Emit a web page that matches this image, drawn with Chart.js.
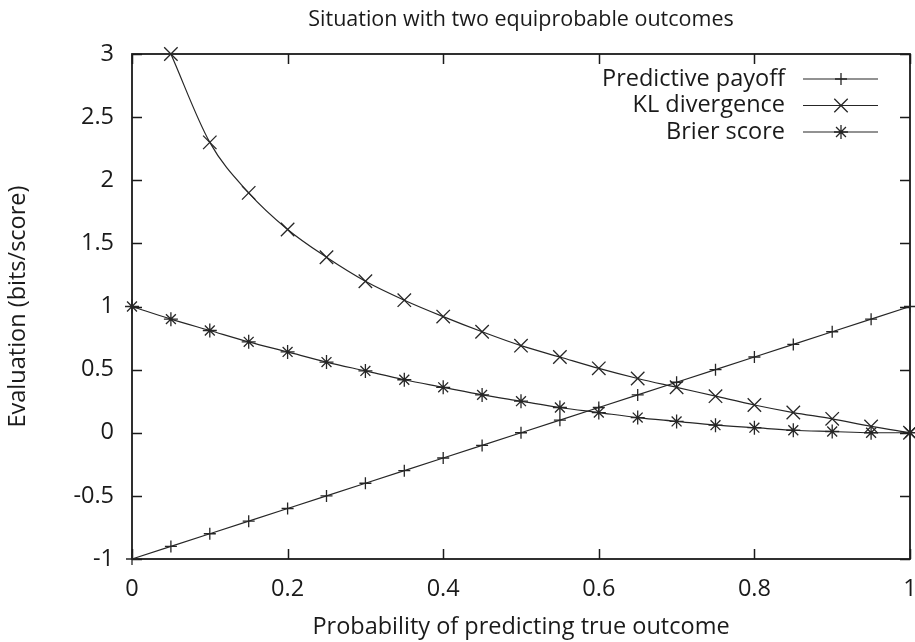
<!DOCTYPE html>
<html>
<head>
<meta charset="utf-8">
<style>
  html, body { margin: 0; padding: 0; background: #ffffff; }
  #wrap { width: 915px; height: 642px; }
</style>
<script src="https://cdn.jsdelivr.net/npm/chart.js@4/dist/chart.umd.min.js"></script>
</head>
<body>
<div id="wrap"><canvas id="c" width="915" height="642"></canvas></div>
<script>
// ---- data ----
const titleText = "Situation with two equiprobable outcomes";
const xTitle = "Probability of predicting true outcome";
const yTitle = "Evaluation (bits/score)";
const probs = [0, 0.05, 0.1, 0.15, 0.2, 0.25, 0.3, 0.35, 0.4, 0.45, 0.5,
               0.55, 0.6, 0.65, 0.7, 0.75, 0.8, 0.85, 0.9, 0.95, 1];
const seriesNames = ["Predictive payoff", "KL divergence", "Brier score"];
const payoff = [-1, -0.9, -0.8, -0.7, -0.6, -0.5, -0.4, -0.3, -0.2, -0.1, 0,
                0.1, 0.2, 0.3, 0.4, 0.5, 0.6, 0.7, 0.8, 0.9, 1];
const klDiv = [null, 3.0, 2.3, 1.9, 1.61, 1.39, 1.2, 1.05, 0.92, 0.8, 0.69,
               0.6, 0.51, 0.43, 0.36, 0.29, 0.22, 0.16, 0.11, 0.05, 0];
const brier = [1, 0.9, 0.81, 0.72, 0.64, 0.56, 0.49, 0.42, 0.36, 0.3, 0.25,
               0.2, 0.16, 0.12, 0.09, 0.06, 0.04, 0.02, 0.01, 0.0, 0];
const xTicks = [0, 0.2, 0.4, 0.6, 0.8, 1];
const yTicks = [-1, -0.5, 0, 0.5, 1, 1.5, 2, 2.5, 3];

// ---- styling ----
const FONT = "'Open Sans', 'DejaVu Sans', sans-serif";
const INK = "#1a1a1a";
const LINE = "#262626";
const markerStyles = ["cross", "crossRot", "star"];
const markerRadius = [6, 9.5, 7];
const BIG = 23.5;

function toPoints(vals) {
  const out = [];
  for (let i = 0; i < probs.length; i++) {
    if (vals[i] !== null && vals[i] !== undefined) out.push({ x: probs[i], y: vals[i] });
  }
  return out;
}

const seriesValues = [payoff, klDiv, brier];
const datasets = seriesNames.map((name, i) => ({
  label: name,
  data: toPoints(seriesValues[i]),
  borderColor: LINE,
  backgroundColor: LINE,
  borderWidth: 1.2,
  pointStyle: markerStyles[i],
  pointRadius: markerRadius[i],
  pointHoverRadius: markerRadius[i],
  pointBorderColor: LINE,
  pointBorderWidth: 1.3,
  cubicInterpolationMode: i === 0 ? "default" : "monotone",
  clip: false,
  fill: false
}));

// frame with inward mirrored ticks (gnuplot style)
const framePlugin = {
  id: "frame",
  beforeDatasetsDraw(chart) {
    const { ctx, chartArea: a, scales } = chart;
    ctx.save();
    ctx.strokeStyle = INK;
    ctx.lineWidth = 1.8;
    ctx.strokeRect(a.left, a.top, a.right - a.left, a.bottom - a.top);
    ctx.lineWidth = 1.5;
    const tl = 10;
    ctx.beginPath();
    xTicks.forEach(v => {
      const px = Math.round(scales.x.getPixelForValue(v)) + 0.5;
      ctx.moveTo(px, a.bottom); ctx.lineTo(px, a.bottom - tl);
      ctx.moveTo(px, a.top); ctx.lineTo(px, a.top + tl);
    });
    yTicks.forEach(v => {
      const py = Math.round(scales.y.getPixelForValue(v)) + 0.5;
      ctx.moveTo(a.left, py); ctx.lineTo(a.left + tl, py);
      ctx.moveTo(a.right, py); ctx.lineTo(a.right - tl, py);
    });
    ctx.stroke();
    ctx.restore();
  }
};

function drawMarker(ctx, style, r, x, y) {
  ctx.beginPath();
  const d = r * Math.SQRT1_2;
  if (style === "cross" || style === "star") {
    ctx.moveTo(x - r, y); ctx.lineTo(x + r, y);
    ctx.moveTo(x, y - r); ctx.lineTo(x, y + r);
  }
  if (style === "crossRot" || style === "star") {
    ctx.moveTo(x - d, y - d); ctx.lineTo(x + d, y + d);
    ctx.moveTo(x - d, y + d); ctx.lineTo(x + d, y - d);
  }
  ctx.stroke();
}

// gnuplot-like key: right-aligned text, sample line to the right
const keyPlugin = {
  id: "gkey",
  afterDatasetsDraw(chart) {
    const { ctx, chartArea: a } = chart;
    ctx.save();
    ctx.font = BIG + "px " + FONT;
    ctx.textAlign = "right";
    ctx.textBaseline = "middle";
    chart.data.datasets.forEach((ds, i) => {
      const y = a.top + 25 + i * 26.5;
      ctx.fillStyle = INK;
      ctx.fillText(ds.label, a.right - 125, y);
      ctx.strokeStyle = LINE;
      ctx.lineWidth = 1.2;
      ctx.beginPath();
      ctx.moveTo(a.right - 107, y); ctx.lineTo(a.right - 32, y);
      ctx.stroke();
      ctx.lineWidth = 1.3;
      drawMarker(ctx, ds.pointStyle, ds.pointRadius, a.right - 69, y);
    });
    ctx.restore();
  }
};

new Chart(document.getElementById("c"), {
  type: "line",
  data: { datasets },
  plugins: [framePlugin, keyPlugin],
  options: {
    responsive: false,
    animation: false,
    devicePixelRatio: 1,
    layout: { autoPadding: false, padding: { left: 0, right: 5, top: 0, bottom: 0 } },
    plugins: {
      legend: { display: false },
      tooltip: { enabled: false },
      title: {
        display: true,
        fullSize: false,
        text: titleText,
        color: INK,
        font: { family: FONT, size: 21.5, weight: "normal", lineHeight: 1.2 },
        padding: { top: 7, bottom: 21.2 }
      }
    },
    scales: {
      x: {
        type: "linear",
        min: 0, max: 1,
        grid: { display: false, drawTicks: false },
        border: { display: false },
        afterBuildTicks: s => { s.ticks = xTicks.map(v => ({ value: v })); },
        afterFit: s => { s.height = 83; s.paddingLeft = 0; s.paddingRight = 0; },
        ticks: {
          color: INK, padding: 16, maxRotation: 0, autoSkip: false,
          font: { family: FONT, size: BIG },
          callback: v => String(v)
        },
        title: {
          display: true, text: xTitle, color: INK,
          font: { family: FONT, size: BIG },
          padding: { top: 0, bottom: 1 }
        }
      },
      y: {
        type: "linear",
        min: -1, max: 3,
        grid: { display: false, drawTicks: false },
        border: { display: false },
        afterBuildTicks: s => { s.ticks = yTicks.map(v => ({ value: v })); },
        afterFit: s => { s.width = 132; },
        ticks: {
          color: INK, padding: 18, autoSkip: false,
          font: { family: FONT, size: BIG },
          callback: v => String(v)
        },
        title: {
          display: true, text: yTitle, color: INK,
          font: { family: FONT, size: BIG },
          padding: { top: 4, bottom: 0 }
        }
      }
    }
  }
});
</script>
</body>
</html>
